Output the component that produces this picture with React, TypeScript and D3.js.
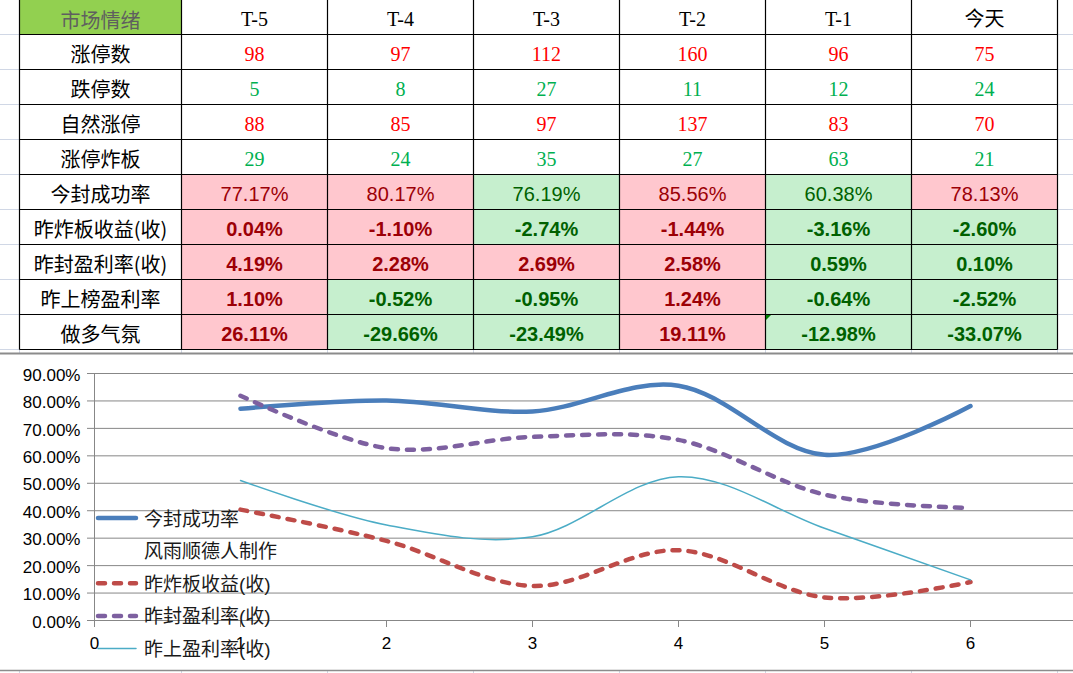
import React, { useRef, useEffect } from "react"
import * as d3 from "d3"

// ---- table data ----
const headers = ["T-5", "T-4", "T-3", "T-2", "T-1", "今天"]
const countLabels = ["涨停数", "跌停数", "自然涨停", "涨停炸板"]
const limitUp = [98, 97, 112, 160, 96, 75]
const limitDown = [5, 8, 27, 11, 12, 24]
const naturalUp = [88, 85, 97, 137, 83, 70]
const brokenBoard = [29, 24, 35, 27, 63, 21]

const rateLabels = ["今封成功率", "昨炸板收益(收)", "昨封盈利率(收)", "昨上榜盈利率", "做多气氛"]
const sealRate = [77.17, 80.17, 76.19, 85.56, 60.38, 78.13]
const brokenReturn = [0.04, -1.10, -2.74, -1.44, -3.16, -2.60]
const sealProfit = [4.19, 2.28, 2.69, 2.58, 0.59, 0.10]
const listProfit = [1.10, -0.52, -0.95, 1.24, -0.64, -2.52]
const bullMood = [26.11, -29.66, -23.49, 19.11, -12.98, -33.07]
// conditional format per cell: 1 = red/pink, 0 = green
const sealRateHot = [1, 1, 0, 1, 0, 1]
const brokenReturnHot = [1, 1, 0, 1, 0, 0]
const sealProfitHot = [1, 1, 1, 1, 0, 0]
const listProfitHot = [1, 0, 0, 1, 0, 0]
const bullMoodHot = [1, 0, 0, 1, 0, 0]

// ---- chart data (percent, as plotted) ----
const days = [1, 2, 3, 4, 5, 6]
const lineSeal = [77.17, 80.17, 76.19, 85.56, 60.38, 78.13]
const lineBroken = [40.4, 29.0, 12.6, 25.6, 8.4, 14.0]
const lineSealProfit = [81.9, 62.8, 66.9, 65.8, 45.9, 41.0]
const lineList = [51.0, 34.8, 30.5, 52.4, 33.6, 14.8]
const yTicks = [0, 10, 20, 30, 40, 50, 60, 70, 80, 90]
const xTicks = [0, 1, 2, 3, 4, 5, 6]
const legendNames = ["今封成功率", "风雨顺德人制作", "昨炸板收益(收)", "昨封盈利率(收)", "昨上盈利率(收)"]

const W = 1073
const H = 673
const CJK = "'Noto Sans CJK SC', 'Noto Sans CJK JP', sans-serif"
const SERIF = "'Liberation Serif', 'Noto Sans CJK SC', serif"
const SANS = "'Liberation Sans', 'Noto Sans CJK SC', sans-serif"

const App = () => {
    const ref = useRef<SVGSVGElement>(null)

    useEffect(() => {
        const svg = d3.select(ref.current)
        svg.selectAll("*").remove()

        const colX = d3.scaleLinear().domain([0, 6]).range([181.5, 1057.5])
        const rowY = d3.scaleLinear().domain([0, 10]).range([-0.5, 349.5])
        const leftX = 19.5
        const colMid = (i: number) => (colX(i) + colX(i + 1)) / 2
        const rowMid = (r: number) => (rowY(r) + rowY(r + 1)) / 2
        const labelMid = (leftX + colX(0)) / 2

        // spreadsheet light grid outside the table
        const sheet = svg.append("g").attr("stroke", "#d0d7e5").attr("stroke-width", 1)
        d3.range(1, 11).forEach(k => {
            sheet.append("line").attr("x1", 0).attr("x2", leftX).attr("y1", rowY(k)).attr("y2", rowY(k))
            sheet.append("line").attr("x1", colX(6)).attr("x2", W).attr("y1", rowY(k)).attr("y2", rowY(k))
        })
        const vx = [leftX, ...d3.range(7).map(i => colX(i))]
        vx.forEach(x => {
            sheet.append("line").attr("x1", x).attr("x2", x).attr("y1", 349.5).attr("y2", 353)
            sheet.append("line").attr("x1", x).attr("x2", x).attr("y1", 671).attr("y2", H)
        })

        // header
        svg.append("rect").attr("x", leftX).attr("y", rowY(0)).attr("width", colX(0) - leftX)
            .attr("height", rowY(1) - rowY(0)).attr("fill", "#92d050")
        svg.append("text").attr("x", labelMid).attr("y", rowMid(0) + 2)
            .attr("text-anchor", "middle").attr("dominant-baseline", "central")
            .attr("font-family", CJK).attr("font-size", 20).attr("fill", "#5f5f5f").text("市场情绪")
        svg.append("g").selectAll("text").data(headers).join("text")
            .attr("x", (d, i) => colMid(i)).attr("y", rowMid(0) + 2)
            .attr("text-anchor", "middle").attr("dominant-baseline", "central")
            .attr("font-family", SERIF).attr("font-size", 20).attr("fill", "#000")
            .text(d => d)

        // count rows
        const countRows = [limitUp, limitDown, naturalUp, brokenBoard]
        const countColors = ["#ff0000", "#00b050", "#ff0000", "#00b050"]
        countRows.forEach((vals, r) => {
            svg.append("text").attr("x", labelMid).attr("y", rowMid(r + 1) + 1.5)
                .attr("text-anchor", "middle").attr("dominant-baseline", "central")
                .attr("font-family", CJK).attr("font-size", 20).attr("fill", "#000").text(countLabels[r])
            svg.append("g").selectAll("text").data(vals).join("text")
                .attr("x", (d, i) => colMid(i)).attr("y", rowMid(r + 1) + 2)
                .attr("text-anchor", "middle").attr("dominant-baseline", "central")
                .attr("font-family", SERIF).attr("font-size", 20).attr("fill", countColors[r])
                .text(d => String(d))
        })

        // rate rows
        const rateRows = [sealRate, brokenReturn, sealProfit, listProfit, bullMood]
        const hotRows = [sealRateHot, brokenReturnHot, sealProfitHot, listProfitHot, bullMoodHot]
        rateRows.forEach((vals, r) => {
            const row = r + 5
            svg.append("text").attr("x", labelMid).attr("y", rowMid(row) + 1.5)
                .attr("text-anchor", "middle").attr("dominant-baseline", "central")
                .attr("font-family", CJK).attr("font-size", 20).attr("fill", "#000").text(rateLabels[r])
            const g = svg.append("g")
            g.selectAll("rect").data(vals).join("rect")
                .attr("x", (d, i) => colX(i)).attr("y", rowY(row))
                .attr("width", colX(1) - colX(0)).attr("height", rowY(row + 1) - rowY(row))
                .attr("fill", (d, i) => hotRows[r][i] ? "#ffc7ce" : "#c6efce")
            g.selectAll("text").data(vals).join("text")
                .attr("x", (d, i) => colMid(i)).attr("y", rowMid(row) + 2)
                .attr("text-anchor", "middle").attr("dominant-baseline", "central")
                .attr("font-family", SANS).attr("font-size", 20)
                .attr("font-weight", r === 0 ? "normal" : "bold")
                .attr("fill", (d, i) => hotRows[r][i] ? "#9c0006" : "#006100")
                .text(d => d.toFixed(2) + "%")
        })

        // table borders
        const grid = svg.append("g").attr("stroke", "#000").attr("stroke-width", 1.2)
        vx.forEach(x => {
            grid.append("line").attr("x1", x).attr("x2", x).attr("y1", rowY(0)).attr("y2", rowY(10))
        })
        d3.range(1, 11).forEach(k => {
            grid.append("line").attr("x1", leftX).attr("x2", colX(6)).attr("y1", rowY(k)).attr("y2", rowY(k))
        })
        // excel error marker
        svg.append("path")
            .attr("d", `M${colX(4) + 0.5},${rowY(9) + 0.5}h5l-5,5z`)
            .attr("fill", "#008000")

        // ---- chart ----
        svg.append("line").attr("x1", 0).attr("x2", W).attr("y1", 353.5).attr("y2", 353.5)
            .attr("stroke", "#8c8c8c").attr("stroke-width", 2)
        svg.append("line").attr("x1", 0).attr("x2", W).attr("y1", 670.5).attr("y2", 670.5)
            .attr("stroke", "#8c8c8c").attr("stroke-width", 1.5)

        const x = d3.scaleLinear().domain([0, 6]).range([94.5, 970.5])
        const y = d3.scaleLinear().domain([0, 90]).range([620.5, 373.5])
        const axisColor = "#878787"

        svg.append("g").selectAll("line").data(yTicks).join("line")
            .attr("x1", 87).attr("x2", W).attr("y1", d => y(d)).attr("y2", d => y(d))
            .attr("stroke", axisColor).attr("stroke-width", 1)
        svg.append("line").attr("x1", x(0)).attr("x2", x(0)).attr("y1", y(90)).attr("y2", 627)
            .attr("stroke", axisColor).attr("stroke-width", 1)
        svg.append("g").selectAll("line").data(xTicks.slice(1)).join("line")
            .attr("x1", d => x(d)).attr("x2", d => x(d)).attr("y1", y(0)).attr("y2", 627)
            .attr("stroke", axisColor).attr("stroke-width", 1)

        svg.append("g").selectAll("text").data(yTicks).join("text")
            .attr("x", 80.5).attr("y", d => y(d)).attr("dy", "0.42em")
            .attr("text-anchor", "end").attr("font-family", SANS).attr("font-size", 17)
            .attr("fill", "#000").text(d => d.toFixed(2) + "%")
        svg.append("g").selectAll("text").data(xTicks).join("text")
            .attr("x", d => x(d)).attr("y", 643).attr("dy", "0.36em")
            .attr("text-anchor", "middle").attr("font-family", SANS).attr("font-size", 17)
            .attr("fill", "#000").text(d => String(d))

        const series = [
            { values: lineSeal, color: "#4a7ebb", width: 4.5, dash: null },
            { values: lineBroken, color: "#be4b48", width: 4.5, dash: "7,9" },
            { values: lineSealProfit, color: "#7d60a0", width: 4.5, dash: "7,9" },
            { values: lineList, color: "#4bacc6", width: 1.5, dash: null },
        ]
        const line = d3.line<number>()
            .x((d, i) => x(days[i]))
            .y(d => y(d))
            .curve(d3.curveCardinal.tension(0))
        series.forEach(s => {
            svg.append("path").attr("d", line(s.values))
                .attr("fill", "none").attr("stroke", s.color).attr("stroke-width", s.width)
                .attr("stroke-linecap", "round").attr("stroke-linejoin", "round")
                .attr("stroke-dasharray", s.dash)
        })

        // legend (sits over the plot, as in the sheet)
        const legendStyle = [series[0], null, series[1], series[2], series[3]]
        const legendY = d3.scaleLinear().domain([0, 4]).range([518, 648.5])
        legendNames.forEach((name, i) => {
            const s = legendStyle[i]
            if (s) {
                svg.append("line").attr("x1", 98).attr("x2", 136)
                    .attr("y1", legendY(i)).attr("y2", legendY(i))
                    .attr("stroke", s.color).attr("stroke-width", s.width)
                    .attr("stroke-linecap", "round").attr("stroke-dasharray", s.dash)
            }
            svg.append("text").attr("x", 144).attr("y", legendY(i) + 1)
                .attr("dominant-baseline", "central")
                .attr("font-family", SANS).attr("font-size", 19).attr("fill", "#1a1a1a")
                .text(name)
        })
    }, [])

    return (
        <svg ref={ref} width={W} height={H}
            style={{ position: "absolute", left: 0, top: 0, background: "#fff" }} />
    )
}

export default App
